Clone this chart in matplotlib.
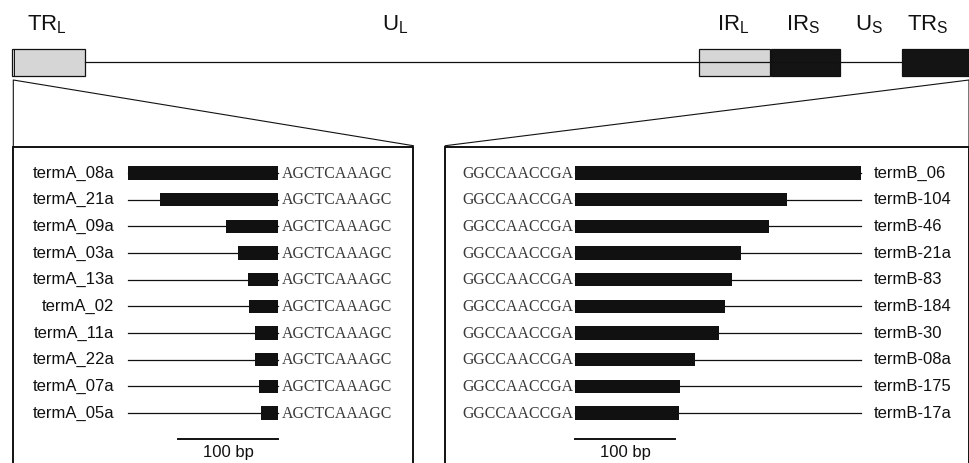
import matplotlib
matplotlib.use('Agg')
import matplotlib.pyplot as plt
from matplotlib.patches import Rectangle

# genome map: labels with subscripts, boxes along the line
genome_labels = ['TR', 'U', 'IR', 'IR', 'U', 'TR']
genome_subs = ['L', 'L', 'L', 'S', 'S', 'S']
genome_label_x = [47, 395, 733, 803, 869, 928]
box_starts = [12.5, 699.5, 771.5, 902.5]
box_ends = [85, 770.5, 840, 975]
box_fills = ['#d6d6d6', '#d6d6d6', '#141414', '#141414']

# termA clones: length of the black block (bp), anchored at AGCTCAAAGC
term_a_names = ['termA_08a', 'termA_21a', 'termA_09a', 'termA_03a', 'termA_13a',
                'termA_02', 'termA_11a', 'termA_22a', 'termA_07a', 'termA_05a']
term_a_len = [150, 118, 52, 40, 30, 29, 23, 23, 19, 17]
term_a_span = 150
term_a_seq = 'AGCTCAAAGC'

# termB clones: length of the black block (bp), anchored at GGCCAACCGA
term_b_names = ['termB_06', 'termB-104', 'termB-46', 'termB-21a', 'termB-83',
                'termB-184', 'termB-30', 'termB-08a', 'termB-175', 'termB-17a']
term_b_len = [286, 212, 194, 166, 157, 150, 144, 120, 105, 104]
term_b_span = 286
term_b_seq = 'GGCCAACCGA'

scale_bp = 100

SANS = 'Liberation Sans'
SERIF = 'Liberation Serif'
INK = '#111111'

fig = plt.figure(figsize=(9.7, 4.63), dpi=100)
ax = fig.add_axes([0, 0, 1, 1])
ax.set_xlim(0, 970)
ax.set_ylim(463, 0)
ax.axis('off')

# --- genome map ---
line_y = 61.7
ax.plot([85, 902.5], [line_y, line_y], color=INK, lw=0.9)
for x0, x1, fc in zip(box_starts, box_ends, box_fills):
    ax.add_patch(Rectangle((x0, 48.5), x1 - x0, 27.5, facecolor=fc,
                           edgecolor=INK, lw=0.9))
ax.plot([14.5, 14.5], [48.5, 76], color=INK, lw=0.7)
for lab, sub, x in zip(genome_labels, genome_subs, genome_label_x):
    ax.text(x, 25, f'{lab}$_{{\\mathregular{{{sub}}}}}$', ha='center', va='center',
            fontsize=16, family=SANS, color=INK)

# --- zoom wedges ---
ax.plot([13.3, 13.3, 413.3], [147, 80, 145.7], color=INK, lw=0.8)
ax.plot([445.3, 969, 969], [145.7, 80, 147], color=INK, lw=0.8)

# --- panel boxes ---
for x0, x1 in [(13.3, 413.3), (445.3, 969)]:
    ax.plot([x0, x0, x1, x1], [480, 147, 147, 480], color=INK, lw=1.4,
            solid_joinstyle='miter')

row_y = [173 + i * 26.67 for i in range(10)]
bar_h = 13.3

# left panel
a_end = 278.5
a_start = a_end - term_a_span
for name, ln, y in zip(term_a_names, term_a_len, row_y):
    ax.plot([a_start, a_end], [y, y], color=INK, lw=0.9)
    ax.add_patch(Rectangle((a_end - ln, y - bar_h / 2), ln, bar_h,
                           facecolor=INK, edgecolor='none'))
    ax.text(a_start - 14, y, name, ha='right', va='center', fontsize=12,
            family=SANS, color=INK)
    ax.text(a_end + 3, y + 0.5, term_a_seq, ha='left', va='center', fontsize=11.4,
            family=SERIF, color='#3a3a3a')
ax.plot([a_end - scale_bp, a_end], [438.7, 438.7], color=INK, lw=1.4)
ax.text(a_end - scale_bp / 2, 452, f'{scale_bp} bp', ha='center', va='center',
        fontsize=12, family=SANS, color=INK)

# right panel
b_start = 575
b_end = b_start + term_b_span
for name, ln, y in zip(term_b_names, term_b_len, row_y):
    ax.plot([b_start, b_end], [y, y], color=INK, lw=0.9)
    ax.add_patch(Rectangle((b_start, y - bar_h / 2), ln, bar_h,
                           facecolor=INK, edgecolor='none'))
    ax.text(b_end + 13, y, name, ha='left', va='center', fontsize=12,
            family=SANS, color=INK)
    ax.text(b_start - 1, y + 0.5, term_b_seq, ha='right', va='center', fontsize=11.4,
            family=SERIF, color='#3a3a3a')
ax.plot([b_start, b_start + scale_bp], [438.7, 438.7], color=INK, lw=1.4)
ax.text(b_start + scale_bp / 2, 452, f'{scale_bp} bp', ha='center', va='center',
        fontsize=12, family=SANS, color=INK)

fig.savefig('out.png', dpi=100)
